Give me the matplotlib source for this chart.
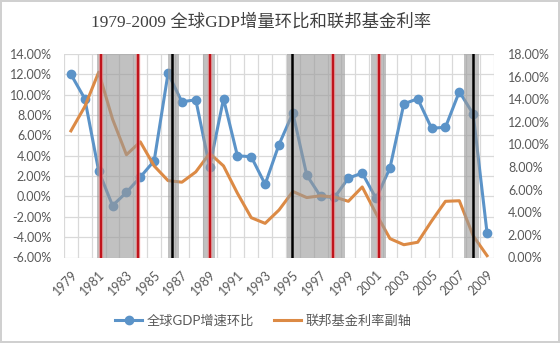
import matplotlib
matplotlib.use("Agg")
import matplotlib.pyplot as plt
from matplotlib.ticker import FuncFormatter, MultipleLocator
import numpy as np

plt.rcParams['font.family'] = ['Lato', 'Noto Sans CJK SC', 'DejaVu Sans']

years = list(range(1979, 2010))
gdp_growth = [12.0, 9.6, 2.5, -0.9, 0.4, 1.9, 3.5, 12.1, 9.3, 9.5, 2.9, 9.6, 4.0, 3.9,
              1.2, 5.1, 8.2, 2.1, 0.0, -0.1, 1.8, 2.3, -0.2, 2.8, 9.1, 9.6, 6.7, 6.8,
              10.3, 8.1, -3.6]
fed_rate = [11.2, 13.35, 16.39, 12.24, 9.09, 10.23, 8.10, 6.80, 6.66, 7.57, 9.21, 8.10,
            5.69, 3.52, 3.02, 4.20, 5.84, 5.30, 5.46, 5.35, 4.97, 6.24, 3.88, 1.67,
            1.13, 1.35, 3.22, 4.97, 5.02, 1.92, 0.16]
shade_spans = [(1980.86, 1983.98), (1985.98, 1986.81), (1988.55, 1989.39),
               (1994.56, 1998.76), (2000.64, 2001.70), (2007.35, 2008.43)]
red_lines = [1981.17, 1983.81, 1989.03, 1997.92, 2001.2]
black_lines = [1986.27, 1994.94, 2008.0]
x_labels = [str(y) for y in range(1979, 2010, 2)]

title = "1979-2009 全球GDP增量环比和联邦基金利率"
label_gdp = "全球GDP增速环比"
label_fed = "联邦基金利率副轴"

blue = '#5b93c8'
orange = '#dc8a45'
txt = '#595959'

fig = plt.figure(figsize=(5.6, 3.43), dpi=100)
fig.patch.set_facecolor('white')
fig.patch.set_edgecolor('#d0d0d0')
fig.patch.set_linewidth(1.5)

ax = fig.add_axes([64/560, 1-257.5/343, 430/560, 203.5/343])
ax2 = ax.twinx()

ax.plot(years, gdp_growth, color=blue, lw=2.2, marker='o', ms=6, zorder=3,
        label=label_gdp)
ax2.plot(years, fed_rate, color=orange, lw=2.2, zorder=3, label=label_fed)

for a, b in shade_spans:
    ax2.axvspan(a, b, color='#999999', alpha=0.6, lw=0, zorder=4)
for x in red_lines:
    ax2.axvline(x, color='#f08080', lw=3.2, alpha=0.6, zorder=5)
    ax2.axvline(x, color='#c0141c', lw=1.6, zorder=6)
for x in black_lines:
    ax2.axvline(x, color='black', lw=1.8, zorder=6)

ax.set_xlim(1978.5, 2009.5)
ax.set_ylim(-6, 14)
ax2.set_ylim(0, 18)
ax.yaxis.set_major_locator(MultipleLocator(2))
ax2.yaxis.set_major_locator(MultipleLocator(2))
pct = FuncFormatter(lambda v, p: f"{v:.2f}%")
ax.yaxis.set_major_formatter(pct)
ax2.yaxis.set_major_formatter(pct)

ax.set_xticks(list(range(1979, 2010, 2)))
ax.set_xticklabels(x_labels, rotation=45, ha='right', va='top',
                   rotation_mode='anchor')
ax.set_xticks(np.arange(1978.5, 2010.0, 1.0), minor=True)
ax.grid(True, axis='y', which='major', color='#d9d9d9', lw=0.9)
ax.grid(True, axis='x', which='minor', color='#d9d9d9', lw=0.9)
ax.grid(False, axis='x', which='major')
ax.set_axisbelow(True)

for a in (ax, ax2):
    for s in a.spines.values():
        s.set_visible(False)
ax.tick_params(axis='both', which='both', length=0, colors=txt, labelsize=9)
ax.tick_params(axis='y', pad=9)
ax.tick_params(axis='x', pad=8)
ax2.tick_params(axis='y', length=0, colors=txt, labelsize=9, pad=10)

fig.text(261/560, 1-22/343, title, ha='center', va='center', fontsize=12.5,
         color='#404040', family=['Liberation Serif', 'Noto Sans CJK SC'])

h1, l1 = ax.get_legend_handles_labels()
h2, l2 = ax2.get_legend_handles_labels()
leg = fig.legend(h1 + h2, l1 + l2, loc='center', ncol=2,
                 bbox_to_anchor=(263/560, 1-320.7/343), frameon=False,
                 fontsize=9.5, handlelength=2.1, columnspacing=1.5,
                 handletextpad=0.3)
for t in leg.get_texts():
    t.set_color(txt)

fig.savefig('out.png', dpi=100)
